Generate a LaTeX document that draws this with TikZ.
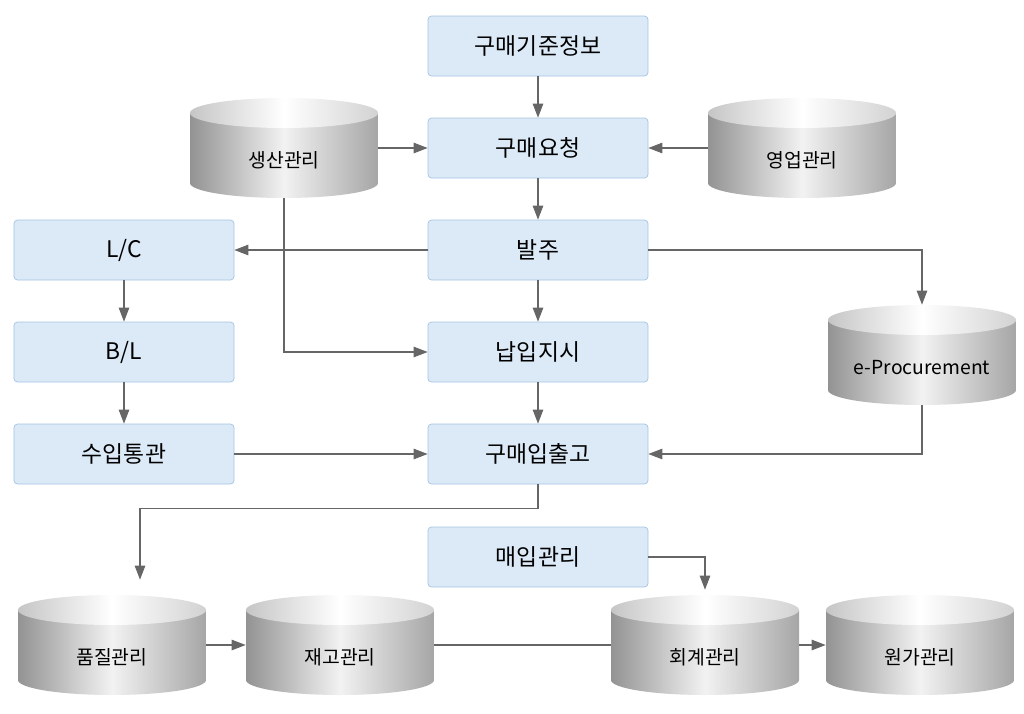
\documentclass[tikz,border=0pt]{standalone}
\usepackage{fontspec}
\setmainfont{Noto Sans CJK KR}
\usetikzlibrary{shapes.geometric,arrows.meta,calc}
\definecolor{boxfill}{RGB}{220,234,247}
\definecolor{boxline}{RGB}{165,195,228}

\begin{document}
\begin{tikzpicture}[
    box/.style={rectangle, draw=boxline, fill=boxfill, thin, minimum width=4.4cm, minimum height=1.2cm, text centered, rounded corners=2pt, font=\fontsize{13}{15}\selectfont},
    db/.style={rectangle, inner sep=0pt, minimum height=2cm, minimum width=3.76cm,
        path picture={
            \coordinate (c) at (path picture bounding box.center);
            \shade[left color=gray!85, right color=gray!70, middle color=gray!10]
                ($(c)+(-1.88,0.7)$) -- ($(c)+(-1.88,-0.7)$)
                arc[start angle=180, end angle=360, x radius=1.88cm, y radius=0.3cm]
                -- ($(c)+(1.88,0.7)$) -- cycle;
            \shade[left color=gray!45, right color=gray!35, middle color=white]
                ($(c)+(0,0.7)$) ellipse[x radius=1.88cm, y radius=0.3cm];
        },
        label={[font=\fontsize{11}{13}\selectfont, yshift=-0.25cm]center:#1}},
    arrow/.style={-{Triangle[width=6pt,length=8pt]}, draw=gray!80!black, semithick}
]
    \useasboundingbox (0,0) rectangle (20.48,-14.28);

    % Purchasing flow
    \node[box] (standard) at (10.76,-0.92) {구매기준정보};
    \node[box] (request) at (10.76,-2.96) {구매요청};
    \node[box] (order) at (10.76,-5.0) {발주};
    \node[box] (delivery) at (10.76,-7.04) {납입지시};
    \node[box] (inout) at (10.76,-9.08) {구매입출고};
    \node[box] (purchase) at (10.76,-11.14) {매입관리};

    % Import chain
    \node[box] (lc) at (2.48,-5.0) {L/C};
    \node[box] (bl) at (2.48,-7.04) {B/L};
    \node[box] (customs) at (2.48,-9.08) {수입통관};

    % Systems
    \node[db={생산관리}] (production) at (5.68,-2.96) {};
    \node[db={영업관리}] (sales) at (16.04,-2.96) {};
    \node[db={e-Procurement}] (eproc) at (18.44,-7.1) {};
    \node[db={품질관리}] (quality) at (2.24,-12.9) {};
    \node[db={재고관리}] (stock) at (6.8,-12.9) {};
    \node[db={회계관리}] (account) at (14.1,-12.9) {};
    \node[db={원가관리}] (cost) at (18.4,-12.9) {};

    % Arrows
    \draw[arrow] (standard) -- (request);
    \draw[arrow] (production) -- (request);
    \draw[arrow] (sales) -- (request);
    \draw[arrow] (request) -- (order);
    \draw[arrow] (order) -- (lc);
    \draw[arrow] (order.east) -| (eproc.north);
    \draw[arrow] (order) -- (delivery);
    \draw[arrow] (production.south) |- (delivery.west);
    \draw[arrow] (delivery) -- (inout);
    \draw[arrow] (lc) -- (bl);
    \draw[arrow] (bl) -- (customs);
    \draw[arrow] (customs) -- (inout);
    \draw[arrow] (eproc.south) |- (inout.east);
    \draw[arrow] (inout.south) -- ++(0,-0.48) -| ([xshift=0.56cm,yshift=0.3cm]quality.north);
    \draw[arrow] (quality) -- (stock);
    \draw[draw=gray!80!black, semithick] (stock) -- (account);
    \draw[arrow] (purchase.east) -| ([yshift=0.1cm]account.north);
    \draw[arrow] (account) -- (cost);
\end{tikzpicture}
\end{document}
